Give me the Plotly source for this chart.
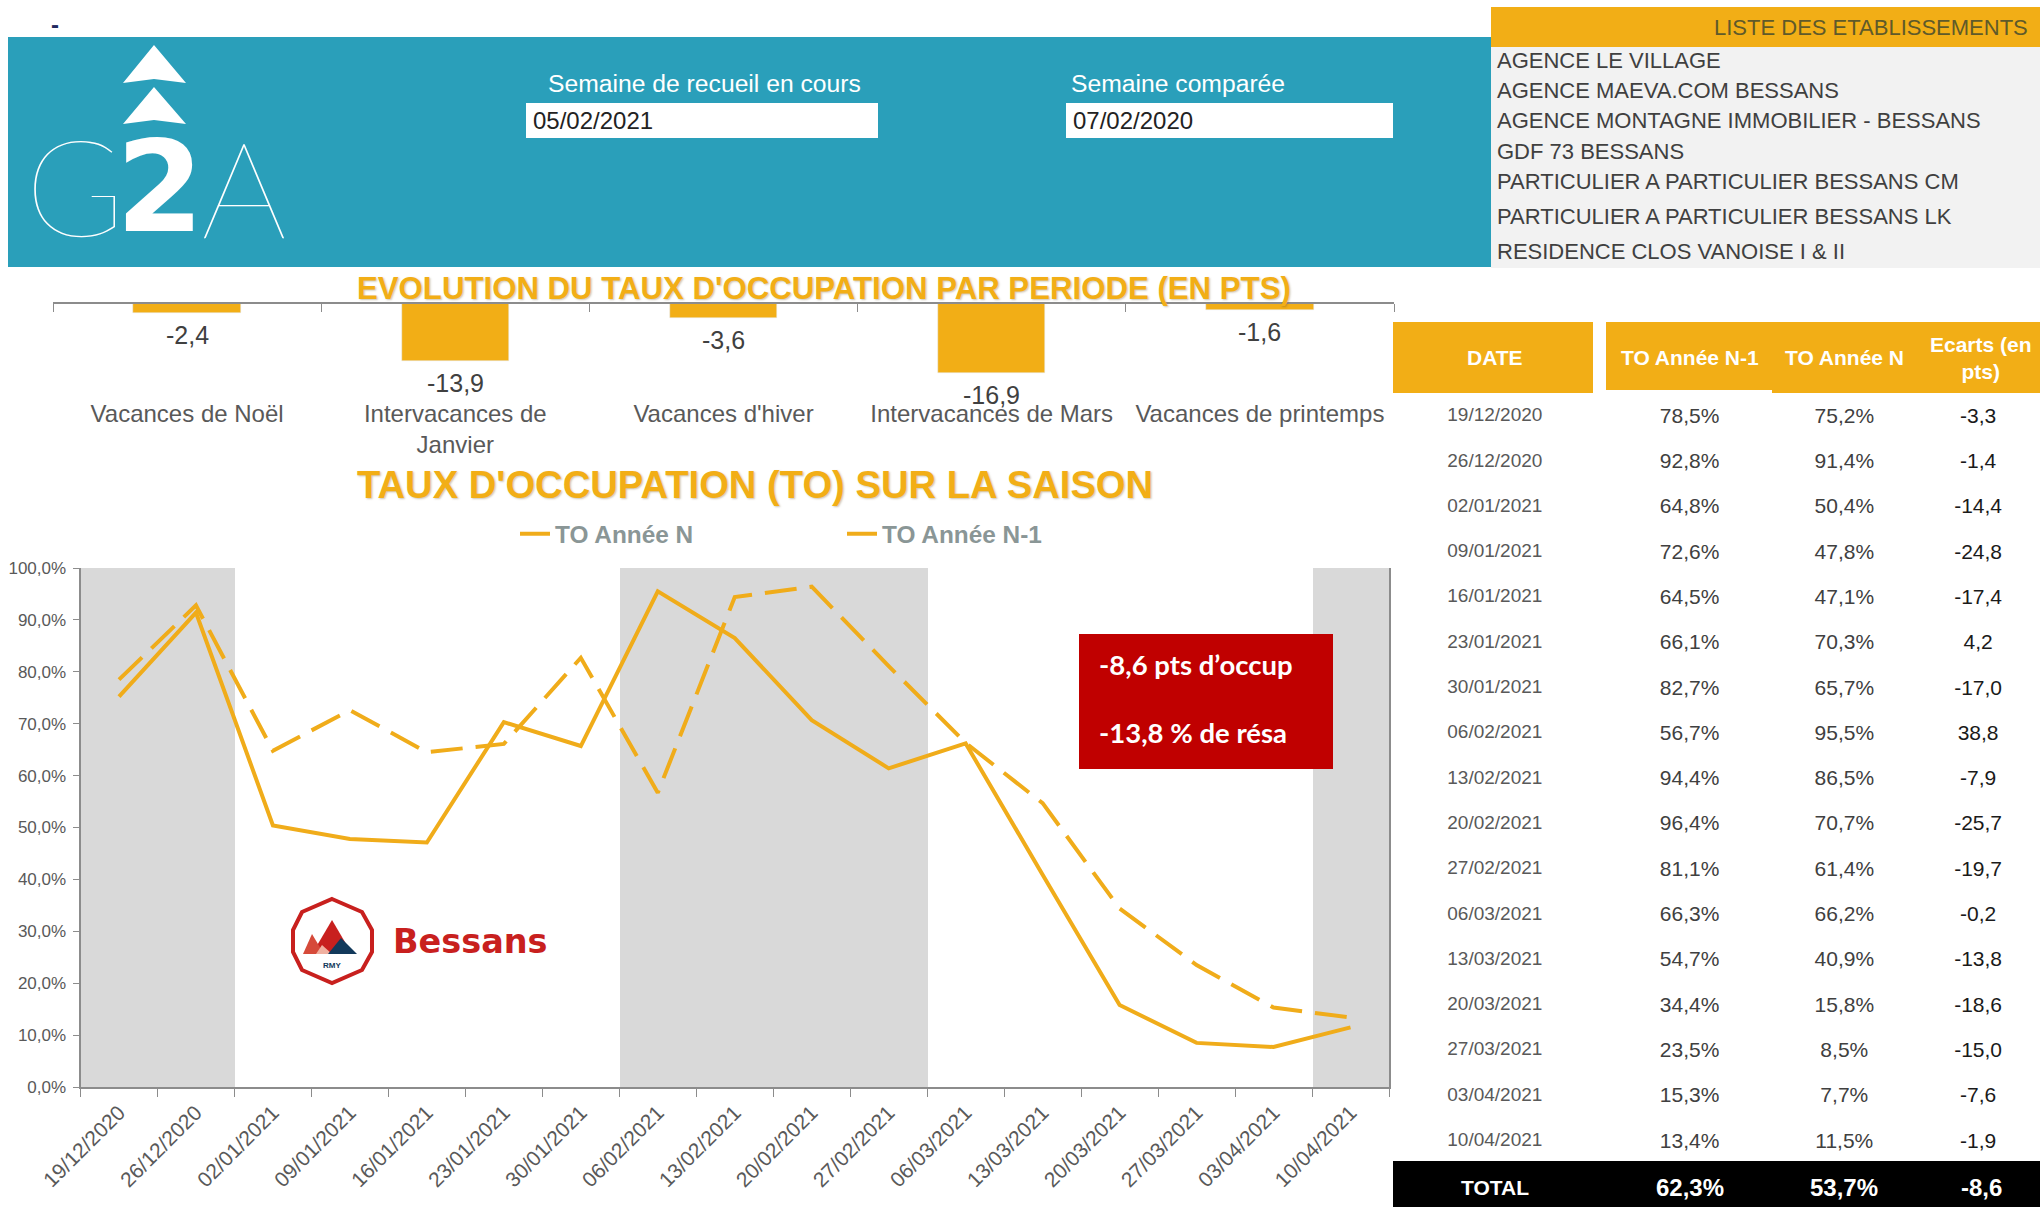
import plotly.graph_objects as go

W, H = 2040, 1207
ORANGE = "#f2ae16"
TEAL = "#2a9fba"
GREY = "#595959"
AXIS = "#8c8c8c"
SANS = "Liberation Sans"
CLEAR = "rgba(0,0,0,0)"

periods = ["Vacances de Noël", "Intervacances de<br>Janvier", "Vacances d'hiver",
           "Intervacances de Mars", "Vacances de printemps"]
period_gaps = [-2.4, -13.9, -3.6, -16.9, -1.6]

dates = ["19/12/2020", "26/12/2020", "02/01/2021", "09/01/2021", "16/01/2021", "23/01/2021",
         "30/01/2021", "06/02/2021", "13/02/2021", "20/02/2021", "27/02/2021", "06/03/2021",
         "13/03/2021", "20/03/2021", "27/03/2021", "03/04/2021", "10/04/2021"]
to_n1 = [78.5, 92.8, 64.8, 72.6, 64.5, 66.1, 82.7, 56.7, 94.4, 96.4, 81.1, 66.3, 54.7, 34.4, 23.5, 15.3, 13.4]
to_n = [75.2, 91.4, 50.4, 47.8, 47.1, 70.3, 65.7, 95.5, 86.5, 70.7, 61.4, 66.2, 40.9, 15.8, 8.5, 7.7, 11.5]
ecarts = [-3.3, -1.4, -14.4, -24.8, -17.4, 4.2, -17.0, 38.8, -7.9, -25.7, -19.7, -0.2, -13.8, -18.6, -15.0, -7.6, -1.9]
holiday_dates = ["19/12/2020", "26/12/2020", "06/02/2021", "13/02/2021", "20/02/2021", "27/02/2021", "10/04/2021"]
holiday_height = [100, 100, 100, 100, 100, 100, 100]
table_headers = ["DATE", "TO Année N-1", "TO Année N", "Ecarts (en<br>pts)"]
total_row = ["TOTAL", 62.3, 53.7, -8.6]
establishments = ["AGENCE LE VILLAGE", "AGENCE MAEVA.COM BESSANS", "AGENCE MONTAGNE IMMOBILIER - BESSANS",
                  "GDF 73 BESSANS", "PARTICULIER A PARTICULIER BESSANS CM",
                  "PARTICULIER A PARTICULIER BESSANS LK", "RESIDENCE CLOS VANOISE I & II"]
establishment_rows = [61, 91, 121, 151, 182, 216, 252]
column_centres = [1495, 1690, 1844, 1981]


def fx(p):
    return p / W


def fy(p):
    return 1 - p / H


def pct(v):
    return f"{v:.1f}".replace(".", ",") + "%"


def num(v):
    return f"{v:.1f}".replace(".", ",")


fig = go.Figure()

# Period bars
fig.add_trace(go.Bar(x=periods, y=period_gaps, width=0.4, marker_color=ORANGE, xaxis="x", yaxis="y",
                     showlegend=False, hoverinfo="skip"))

# Season chart
fig.add_trace(go.Bar(x=holiday_dates, y=holiday_height, width=1, marker_color="#d9d9d9", marker_line_width=0,
                     xaxis="x2", yaxis="y2", showlegend=False, hoverinfo="skip"))
fig.add_trace(go.Scatter(x=dates, y=to_n, name="TO Année N", mode="lines", xaxis="x2", yaxis="y2",
                         line=dict(color="#f0ac1a", width=4)))
fig.add_trace(go.Scatter(x=dates, y=to_n1, name="TO Année N-1", mode="lines", xaxis="x2", yaxis="y2",
                         line=dict(color="#f0ac1a", width=4, dash="32px,13px")))

# Table
fig.add_trace(go.Table(
    domain=dict(x=[fx(1393), 1], y=[fy(1172), fy(322)]),
    columnwidth=[204, 10, 166, 144, 124],
    header=dict(values=["", "", "", "", ""], height=77, fill_color=CLEAR, line_width=0,
                font=dict(family=SANS, size=21, color="#ffffff")),
    cells=dict(values=[dates, [""] * len(dates), [pct(v) for v in to_n1], [pct(v) for v in to_n],
                       [num(v) for v in ecarts]],
               height=45.3, align="center", line_width=0, fill_color=CLEAR,
               font=dict(family=SANS, size=[19, 19, 21, 21, 21],
                         color=[GREY, GREY, "#404040", "#404040", "#1a1a1a"])),
))

shapes = []


def rect(x0, y0, x1, y1, color, layer="below"):
    shapes.append(dict(type="rect", xref="paper", yref="paper", x0=fx(x0), x1=fx(x1), y0=fy(y0), y1=fy(y1),
                       fillcolor=color, line_width=0, layer=layer))


def path(points, fill=None, line=None, width=0):
    d = ""
    for i, (px, py) in enumerate(points):
        d += f"{'M' if i == 0 else 'L'} {fx(px):.5f} {fy(py):.5f} "
    d += "Z"
    shapes.append(dict(type="path", xref="paper", yref="paper", path=d, fillcolor=fill or CLEAR,
                       line=dict(color=line or CLEAR, width=width), layer="above"))


rect(8, 37, 1491, 267, TEAL)
rect(1491, 7, 2040, 47, ORANGE)
rect(1491, 47, 2040, 268, "#f2f2f2")
rect(526, 103, 878, 138, "#ffffff")
rect(1066, 103, 1393, 138, "#ffffff")
rect(1393, 322, 1593, 393, ORANGE)
rect(1606, 322, 1772, 390, ORANGE)
rect(1772, 322, 2040, 393, ORANGE)
rect(1393, 1161, 2040, 1207, "#000000")
rect(1079, 634, 1333, 769, "#c00000", "above")

# G2A logo triangles
path([(154, 45), (186, 83), (154, 79), (123, 83)], fill="#ffffff")
path([(154, 87), (186, 124), (154, 120), (123, 124)], fill="#ffffff")

# Bessans badge
path([(332, 899), (362, 912), (372, 930), (372, 952), (362, 970), (332, 983), (302, 970), (293, 952), (293, 930), (302, 912)],
     fill="#ffffff", line="#c8201e", width=4)
path([(332, 920), (352, 954), (312, 954)], fill="#c8201e")
path([(312, 934), (324, 954), (303, 954)], fill="#d64a3a")
path([(322, 945), (332, 954), (316, 954)], fill="#f0b0a0")
path([(341, 938), (357, 954), (328, 954)], fill="#12395b")

ann = []


def text(x, y, s, size, color="#404040", anchor="center", family=SANS, weight=None, shadow=None):
    f = dict(family=family, size=size, color=color)
    if weight:
        f["weight"] = weight
    if shadow:
        f["shadow"] = shadow
    ann.append(dict(xref="paper", yref="paper", x=fx(x), y=fy(y), text=s, showarrow=False, xanchor=anchor,
                    yanchor="middle", font=f))


text(55, 24, "<b>-</b>", 24, "#1f2a60")
text(704, 83, "Semaine de recueil en cours", 24.7, "#ffffff")
text(1178, 83, "Semaine comparée", 24.7, "#ffffff")
text(531, 121, "05/02/2021", 24, "#222222", "left")
text(1071, 121, "07/02/2020", 24, "#222222", "left")
text(2030, 27, "LISTE DES ETABLISSEMENTS", 22, "#5f5a2a", "right")
for name, yy in zip(establishments, establishment_rows):
    text(1495, yy, name, 22, "#404040", "left")

for label, cx in zip(table_headers, column_centres):
    text(cx, 358, "<b>" + label.replace("<br>", "</b><br><b>") + "</b>", 21, "#ffffff")
for i, (value, cx) in enumerate(zip(total_row, column_centres)):
    if i == 0:
        text(cx, 1187, f"<b>{value}</b>", 21, "#ffffff")
    elif i == 3:
        text(cx, 1187, f"<b>{num(value)}</b>", 24, "#ffffff")
    else:
        text(cx, 1187, f"<b>{pct(value)}</b>", 24, "#ffffff")

text(75, 185, "G", 135, "#ffffff", family="Lato", weight=100)
text(160, 187, "<b>2</b>", 126, "#ffffff", family="DejaVu Sans")
text(244, 186, "A", 135, "#ffffff", family="Lato", weight=100)

TITLE_SHADOW = "1px 1px 2px rgba(110,90,40,0.35)"
text(824, 288, "<b>EVOLUTION DU TAUX D'OCCUPATION PAR PERIODE (EN PTS)</b>", 31.2, ORANGE, shadow=TITLE_SHADOW)
text(755, 485, "<b>TAUX D'OCCUPATION (TO) SUR LA SAISON</b>", 38.2, ORANGE, shadow=TITLE_SHADOW)

text(470, 941, "<b>Bessans</b>", 33.5, "#c8201e", family="DejaVu Sans")
text(332, 965, "<b>RMY</b>", 8, "#12395b")

text(1097, 664, "<b>-8,6 pts d’occup</b>", 27.5, "#ffffff", "left", family="Lato")
text(1097, 732, "<b>-13,8 % de résa</b>", 27.5, "#ffffff", "left", family="Lato")

for p, v in zip(periods, period_gaps):
    ann.append(dict(xref="x", yref="y", x=p, y=v, text=num(v), showarrow=False, yanchor="top", yshift=-6,
                    font=dict(family=SANS, size=25, color="#404040")))

fig.update_layout(
    width=W, height=H, margin=dict(l=0, r=0, t=0, b=0, pad=0, autoexpand=False),
    paper_bgcolor="#ffffff", plot_bgcolor=CLEAR,
    separators=", ", bargap=0, barmode="overlay",
    shapes=shapes, annotations=ann,
    font=dict(family=SANS, color=GREY),
    xaxis=dict(type="category", domain=[fx(53), fx(1394)], anchor="free", position=fy(303), side="bottom",
               categoryorder="array", categoryarray=periods, range=[-0.5, 4.5],
               tickson="boundaries", ticks="outside", ticklen=8, tickcolor=AXIS, showline=True, linecolor=AXIS,
               linewidth=2, showgrid=False, ticklabelstandoff=89,
               tickfont=dict(family=SANS, size=24, color=GREY), tickangle=0),
    yaxis=dict(domain=[fy(386), fy(303)], range=[-20, 0], visible=False),
    xaxis2=dict(type="category", domain=[fx(80.5), fx(1389)], anchor="y2",
                categoryorder="array", categoryarray=dates, range=[-0.5, 16.5],
                tickson="boundaries", ticks="outside", ticklen=8, tickcolor=AXIS, showline=True, linecolor=AXIS,
                linewidth=2, showgrid=False, tickangle=-45, ticklabelstandoff=3,
                tickfont=dict(family=SANS, size=21, color=GREY)),
    yaxis2=dict(domain=[fy(1087), fy(568)], anchor="x2", range=[0, 100], dtick=10, tickformat=".1f", ticksuffix="%",
                ticks="outside", ticklen=6, tickcolor=AXIS, showline=True, linecolor=AXIS, linewidth=2, mirror=True,
                showgrid=False, zeroline=False, ticklabelstandoff=3,
                tickfont=dict(family=SANS, size=17, color=GREY)),
    legend=dict(orientation="h", xref="paper", yref="paper", x=fx(515), y=fy(534), xanchor="left", yanchor="middle",
                itemwidth=30, entrywidthmode="pixels", entrywidth=282,
                bgcolor=CLEAR, font=dict(family=SANS, size=24.4, color="#8a9696", weight="bold")),
)

fig.write_html("out.html", config={"displayModeBar": False},
               post_script="document.body.style.margin='0';document.body.style.overflow='hidden';")
